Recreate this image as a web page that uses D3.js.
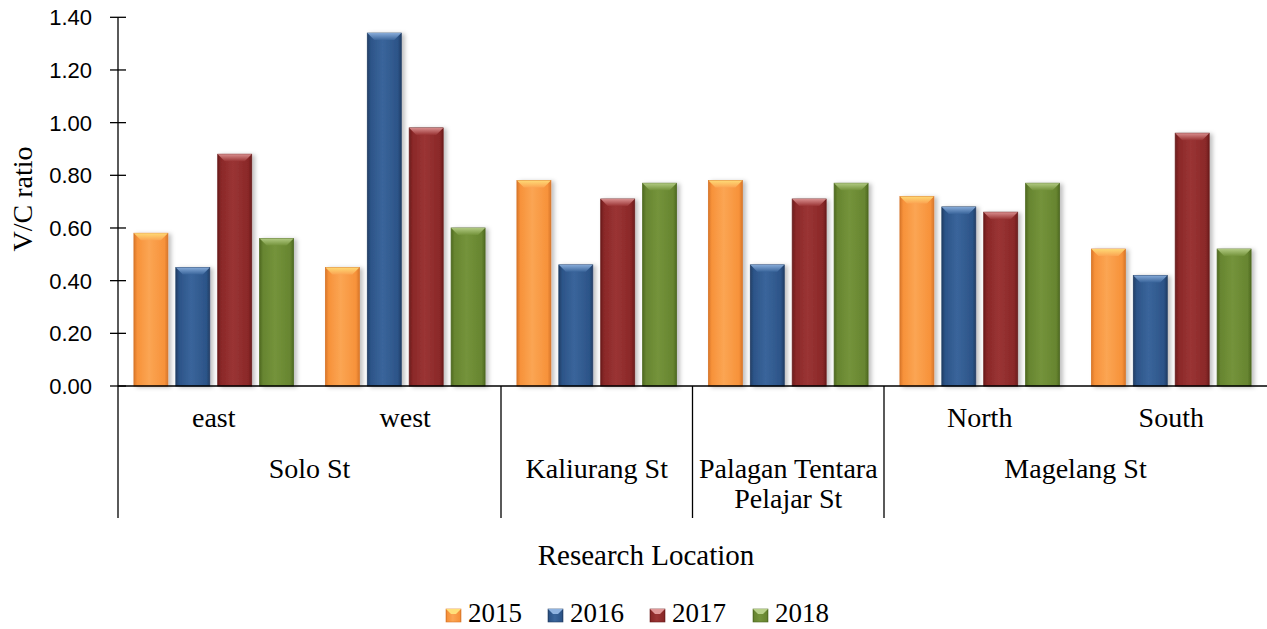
<!DOCTYPE html>
<html>
<head>
<meta charset="utf-8">
<script src="https://cdn.jsdelivr.net/npm/d3@7"></script>
<style>
  body { margin: 0; background: #fff; }
  svg { display: block; }
</style>
</head>
<body>
<div id="chart"></div>
<script>
const subCats = ["east", "west", "Kaliurang", "Palagan", "North", "South"];
const subLabels = ["east", "west", "", "", "North", "South"];
const groups = [
  { name: ["Solo St"], from: 0, to: 2 },
  { name: ["Kaliurang St"], from: 2, to: 3 },
  { name: ["Palagan Tentara", "Pelajar St"], from: 3, to: 4 },
  { name: ["Magelang St"], from: 4, to: 6 }
];
const years = ["2015", "2016", "2017", "2018"];
const v2015 = [0.58, 0.45, 0.78, 0.78, 0.72, 0.52];
const v2016 = [0.45, 1.34, 0.46, 0.46, 0.68, 0.42];
const v2017 = [0.88, 0.98, 0.71, 0.71, 0.66, 0.96];
const v2018 = [0.56, 0.60, 0.77, 0.77, 0.77, 0.52];
const yTicks = [0, 0.2, 0.4, 0.6, 0.8, 1.0, 1.2, 1.4];

const series = [v2015, v2016, v2017, v2018];
const colors = [
  { base: "#f7923a", light: "#fba553", dark: "#d9772a", top: "#ffe07a" },
  { base: "#2c5488", light: "#3a659b", dark: "#223f66", top: "#8fb3e0" },
  { base: "#8a2828", light: "#9a3434", dark: "#6b1c1c", top: "#e09898" },
  { base: "#678530", light: "#74933b", dark: "#4f6a22", top: "#b8d08a" }
];

const W = 1267, H = 629;
const mLeft = 118, mRight = 1267, mTop = 17.3, mBase = 386, mBottom = 518;
const serif = "'Liberation Serif', 'Times New Roman', serif";
const sans = "'Liberation Sans', Arial, sans-serif";

const svg = d3.select("#chart").append("svg")
  .attr("width", W).attr("height", H);

const defs = svg.append("defs");
defs.append("filter").attr("id", "shadow")
  .attr("x", "-20%").attr("y", "-5%").attr("width", "150%").attr("height", "110%")
  .append("feDropShadow")
  .attr("dx", 3).attr("dy", 1).attr("stdDeviation", 2)
  .attr("flood-color", "#000").attr("flood-opacity", 0.25);

colors.forEach((c, i) => {
  const g = defs.append("linearGradient").attr("id", "g" + i)
    .attr("x1", 0).attr("x2", 1).attr("y1", 0).attr("y2", 0);
  g.append("stop").attr("offset", "0%").attr("stop-color", c.dark);
  g.append("stop").attr("offset", "10%").attr("stop-color", c.base);
  g.append("stop").attr("offset", "45%").attr("stop-color", c.light);
  g.append("stop").attr("offset", "90%").attr("stop-color", c.base);
  g.append("stop").attr("offset", "100%").attr("stop-color", c.dark);
  const t = defs.append("linearGradient").attr("id", "t" + i)
    .attr("x1", 0).attr("x2", 0).attr("y1", 0).attr("y2", 1);
  t.append("stop").attr("offset", "0%").attr("stop-color", c.top);
  t.append("stop").attr("offset", "100%").attr("stop-color", c.light);
});

const x0 = d3.scaleBand().domain(subCats).range([mLeft, mRight]).paddingInner(0).paddingOuter(0);
const x1 = d3.scaleBand().domain(years).range([0, x0.bandwidth()]).paddingInner(0.19).paddingOuter(0.38);
const y = d3.scaleLinear().domain([0, 1.4]).range([mBase, mTop]);

// bars
const bw = x1.bandwidth();
series.forEach((vals, si) => {
  const gs = svg.append("g");
  vals.forEach((v, ci) => {
    const bx = x0(subCats[ci]) + x1(years[si]);
    const by = y(v);
    const bh = y(0) - y(v);
    gs.append("rect")
      .attr("x", bx).attr("y", by).attr("width", bw).attr("height", bh)
      .attr("fill", `url(#g${si})`)
      .attr("stroke", colors[si].dark).attr("stroke-width", 0.8)
      .attr("filter", "url(#shadow)");
    const bev = Math.min(7, bh / 2);
    gs.append("polygon")
      .attr("points", [[bx, by], [bx + bw, by], [bx + bw - 7, by + bev], [bx + 7, by + bev]].join(" "))
      .attr("fill", `url(#t${si})`).attr("opacity", 0.9);
  });
});

// y axis
const yAxis = svg.append("g").attr("transform", `translate(${mLeft},0)`);
yAxis.append("line").attr("x1", 0).attr("x2", 0).attr("y1", y(1.4)).attr("y2", mBottom)
  .attr("stroke", "#000").attr("stroke-width", 1.3);
yTicks.forEach(t => {
  yAxis.append("line").attr("x1", -8).attr("x2", 8).attr("y1", y(t)).attr("y2", y(t))
    .attr("stroke", "#000").attr("stroke-width", 1.3);
  yAxis.append("text").attr("x", -26).attr("y", y(t)).attr("dy", "0.36em")
    .attr("text-anchor", "end")
    .attr("font-family", sans).attr("font-size", 22)
    .text(t.toFixed(2));
});

// baseline
svg.append("line").attr("x1", mLeft).attr("x2", mRight).attr("y1", mBase).attr("y2", mBase)
  .attr("stroke", "#000").attr("stroke-width", 1.3);

// group separators and group labels
groups.forEach(gr => {
  const xe = gr.to < subCats.length ? x0(subCats[gr.to]) : mRight;
  if (gr.to < subCats.length) {
    svg.append("line").attr("x1", xe).attr("x2", xe).attr("y1", mBase).attr("y2", mBottom)
      .attr("stroke", "#000").attr("stroke-width", 1.3);
  }
  const xs = x0(subCats[gr.from]);
  const cx = (xs + xe) / 2;
  gr.name.forEach((n, k) => {
    svg.append("text").attr("x", cx).attr("y", 478 + k * 30)
      .attr("text-anchor", "middle").attr("font-family", serif).attr("font-size", 28)
      .text(n);
  });
});

// sub-category labels
subCats.forEach((c, i) => {
  if (!subLabels[i]) return;
  svg.append("text").attr("x", x0(c) + x0.bandwidth() / 2).attr("y", 427)
    .attr("text-anchor", "middle").attr("font-family", serif).attr("font-size", 28)
    .text(subLabels[i]);
});

// axis titles
svg.append("text").attr("transform", "translate(32,199) rotate(-90)")
  .attr("text-anchor", "middle").attr("font-family", serif).attr("font-size", 28)
  .text("V/C ratio");
svg.append("text").attr("x", 646).attr("y", 565)
  .attr("text-anchor", "middle").attr("font-family", serif).attr("font-size", 29)
  .text("Research Location");

// legend
const legX = [446, 548, 650, 753];
years.forEach((yr, i) => {
  const lg = svg.append("g").attr("transform", `translate(${legX[i]},609)`);
  lg.append("rect").attr("width", 15).attr("height", 13)
    .attr("fill", `url(#g${i})`).attr("stroke", colors[i].dark).attr("stroke-width", 0.6);
  lg.append("polygon").attr("points", "0,0 15,0 10,5 5,5").attr("fill", colors[i].top);
  lg.append("text").attr("x", 22).attr("y", 13)
    .attr("font-family", serif).attr("font-size", 27)
    .text(yr);
});
</script>
</body>
</html>
